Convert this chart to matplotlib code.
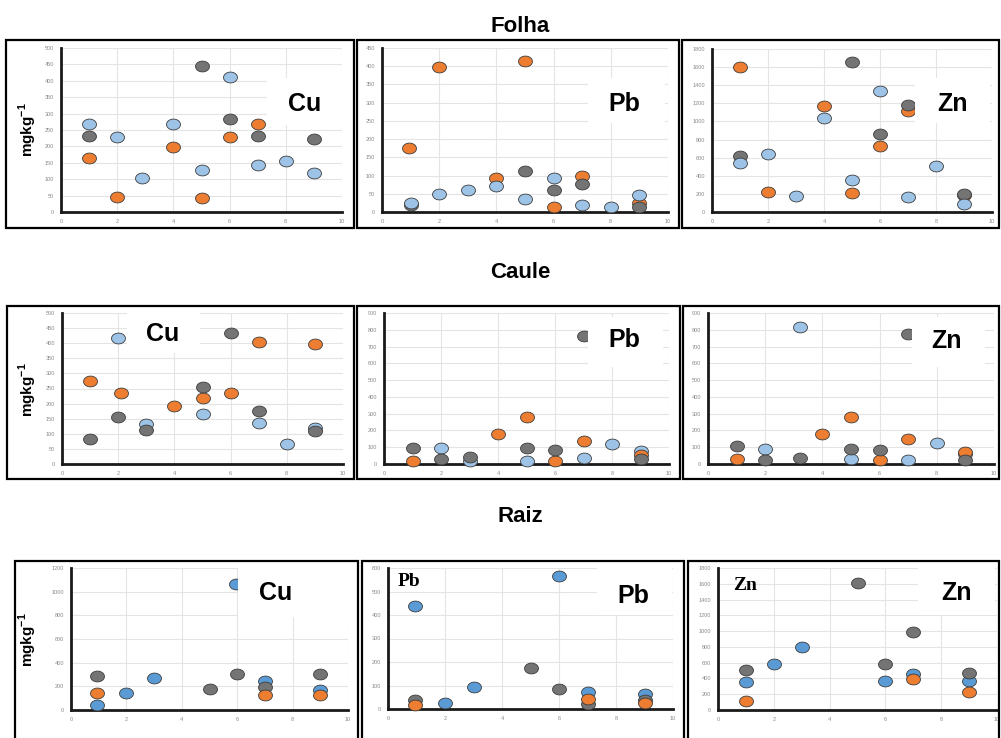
import matplotlib
matplotlib.use("Agg")
import matplotlib.pyplot as plt
from matplotlib.patches import Rectangle
from matplotlib.path import Path
import numpy as np

plt.rcParams['font.family'] = ['Liberation Sans', 'DejaVu Sans']
plt.rcParams['mathtext.fontset'] = 'custom'
plt.rcParams['mathtext.bf'] = 'Liberation Sans:bold'
plt.rcParams['mathtext.rm'] = 'Liberation Sans'

# ---------------- data ----------------
row_titles = ["Folha", "Caule", "Raiz"]
elements = ["Cu", "Pb", "Zn"]
ylabel = r"mgkg$^{\mathbf{-1}}$"

# Folha
folha_cu_orange_x = [1, 2, 4, 5, 6, 7]
folha_cu_orange_y = [166, 47, 198, 44, 230, 267]
folha_cu_gray_x = [1, 5, 6, 7, 9]
folha_cu_gray_y = [233, 445, 284, 231, 223]
folha_cu_blue_x = [1, 2, 2.9, 4, 5, 6, 7, 8, 9]
folha_cu_blue_y = [268, 230, 103, 268, 128, 413, 142, 157, 119]

folha_pb_orange_x = [0.95, 2, 4, 5, 6, 7, 9]
folha_pb_orange_y = [176, 399, 94, 414, 15, 98, 25]
folha_pb_gray_x = [1, 5, 6, 7, 9]
folha_pb_gray_y = [18, 112, 59, 78, 13]
folha_pb_blue_x = [1, 2, 3, 4, 5, 6, 7, 8, 9]
folha_pb_blue_y = [26, 50, 61, 71, 37, 94, 20, 15, 47]

folha_zn_orange_x = [1, 2, 4, 5, 6, 7, 9]
folha_zn_orange_y = [1600, 221, 1172, 214, 730, 1120, 186]
folha_zn_gray_x = [1, 5, 6, 7, 9]
folha_zn_gray_y = [620, 1658, 862, 1178, 200]
folha_zn_blue_x = [1, 2, 3, 4, 5, 6, 7, 8, 9]
folha_zn_blue_y = [543, 641, 178, 1043, 353, 1339, 167, 512, 90]

# Caule
caule_cu_orange_x = [1, 2.1, 4, 5, 6, 7, 9]
caule_cu_orange_y = [275, 235, 192, 220, 236, 405, 396]
caule_cu_gray_x = [1, 2, 3, 5, 6, 7, 9]
caule_cu_gray_y = [83, 156, 114, 255, 435, 174, 110]
caule_cu_blue_x = [2, 3, 5, 7, 8, 9]
caule_cu_blue_y = [417, 134, 166, 136, 67, 119]

caule_pb_orange_x = [1, 4, 5, 6, 7, 9]
caule_pb_orange_y = [20, 180, 283, 20, 137, 52]
caule_pb_gray_x = [1, 2, 3, 5, 6, 7, 9]
caule_pb_gray_y = [95, 32, 40, 95, 83, 765, 28]
caule_pb_blue_x = [2, 3, 5, 7, 8, 9]
caule_pb_blue_y = [93, 15, 20, 34, 121, 77]

caule_zn_orange_x = [1, 4, 5, 6, 7, 9]
caule_zn_orange_y = [32, 176, 281, 22, 149, 73]
caule_zn_gray_x = [1, 2, 3.2, 5, 6, 7, 9]
caule_zn_gray_y = [105, 22, 34, 91, 85, 775, 24]
caule_zn_blue_x = [2, 3.2, 5, 7, 8, 9]
caule_zn_blue_y = [87, 817, 30, 22, 123, 57]

# Raiz
raiz_cu_orange_x = [0.95, 7, 9]
raiz_cu_orange_y = [141, 124, 124]
raiz_cu_gray_x = [0.95, 5, 6, 7, 9]
raiz_cu_gray_y = [285, 181, 305, 195, 305]
raiz_cu_blue_x = [0.95, 2, 3, 5.95, 7, 9]
raiz_cu_blue_y = [45, 141, 271, 1068, 246, 167]

raiz_pb_orange_x = [0.95, 7, 9]
raiz_pb_orange_y = [16, 44, 24]
raiz_pb_gray_x = [0.95, 5, 6, 7, 9]
raiz_pb_gray_y = [37, 174, 84, 23, 40]
raiz_pb_blue_x = [0.95, 2, 3, 6, 7, 9]
raiz_pb_blue_y = [440, 24, 92, 566, 74, 62]

raiz_zn_orange_x = [1, 7, 9]
raiz_zn_orange_y = [119, 394, 229]
raiz_zn_gray_x = [1, 5, 6, 7, 9]
raiz_zn_gray_y = [504, 1614, 589, 987, 475]
raiz_zn_blue_x = [1, 2, 3, 6, 7, 9]
raiz_zn_blue_y = [352, 585, 797, 364, 458, 369]

y_ticks = {
    (0, 0): [0, 50, 100, 150, 200, 250, 300, 350, 400, 450, 500],
    (0, 1): [0, 50, 100, 150, 200, 250, 300, 350, 400, 450],
    (0, 2): [0, 200, 400, 600, 800, 1000, 1200, 1400, 1600, 1800],
    (1, 0): [0, 50, 100, 150, 200, 250, 300, 350, 400, 450, 500],
    (1, 1): [0, 100, 200, 300, 400, 500, 600, 700, 800, 900],
    (1, 2): [0, 100, 200, 300, 400, 500, 600, 700, 800, 900],
    (2, 0): [0, 200, 400, 600, 800, 1000, 1200],
    (2, 1): [0, 100, 200, 300, 400, 500, 600],
    (2, 2): [0, 200, 400, 600, 800, 1000, 1200, 1400, 1600, 1800],
}
x_ticks = [0, 2, 4, 6, 8, 10]

# ---------------- styling ----------------
W, H = 1001, 738
fig = plt.figure(figsize=(W / 100, H / 100), dpi=100)
fig.patch.set_facecolor("white")

ORANGE = "#ED7D31"
GRAY = "#747474"
LBLUE = "#9DC3E6"
BLUE = "#5B9BD5"

t = np.linspace(0, 2 * np.pi, 60)
ell = Path(np.column_stack([np.cos(t), 0.78 * np.sin(t)]), closed=True)

# axes pixel boxes: x0, x1, ytop, ybot
ax_px = {
    (0, 0): (61, 342, 48, 212), (0, 1): (382, 668, 48, 212), (0, 2): (712, 992, 49, 212),
    (1, 0): (62, 343, 313, 464), (1, 1): (384, 669, 313, 464), (1, 2): (708, 994, 313, 464),
    (2, 0): (71, 348, 568, 710), (2, 1): (388, 673, 568, 709), (2, 2): (718, 997, 568, 710),
}
frames = {
    0: [(6, 354), (357, 679), (682, 999)],
    1: [(7, 354), (357, 680), (683, 999)],
    2: [(15, 358), (362, 684), (688, 999)],
}
frame_y = {0: (40, 228), 1: (306, 479), 2: (561, 745)}

series = {
    (0, 0): [(folha_cu_orange_x, folha_cu_orange_y, ORANGE), (folha_cu_gray_x, folha_cu_gray_y, GRAY), (folha_cu_blue_x, folha_cu_blue_y, LBLUE)],
    (0, 1): [(folha_pb_orange_x, folha_pb_orange_y, ORANGE), (folha_pb_gray_x, folha_pb_gray_y, GRAY), (folha_pb_blue_x, folha_pb_blue_y, LBLUE)],
    (0, 2): [(folha_zn_orange_x, folha_zn_orange_y, ORANGE), (folha_zn_gray_x, folha_zn_gray_y, GRAY), (folha_zn_blue_x, folha_zn_blue_y, LBLUE)],
    (1, 0): [(caule_cu_blue_x, caule_cu_blue_y, LBLUE), (caule_cu_orange_x, caule_cu_orange_y, ORANGE), (caule_cu_gray_x, caule_cu_gray_y, GRAY)],
    (1, 1): [(caule_pb_blue_x, caule_pb_blue_y, LBLUE), (caule_pb_orange_x, caule_pb_orange_y, ORANGE), (caule_pb_gray_x, caule_pb_gray_y, GRAY)],
    (1, 2): [(caule_zn_blue_x, caule_zn_blue_y, LBLUE), (caule_zn_orange_x, caule_zn_orange_y, ORANGE), (caule_zn_gray_x, caule_zn_gray_y, GRAY)],
    (2, 0): [(raiz_cu_blue_x, raiz_cu_blue_y, BLUE), (raiz_cu_gray_x, raiz_cu_gray_y, GRAY), (raiz_cu_orange_x, raiz_cu_orange_y, ORANGE)],
    (2, 1): [(raiz_pb_blue_x, raiz_pb_blue_y, BLUE), (raiz_pb_gray_x, raiz_pb_gray_y, GRAY), (raiz_pb_orange_x, raiz_pb_orange_y, ORANGE)],
    (2, 2): [(raiz_zn_blue_x, raiz_zn_blue_y, BLUE), (raiz_zn_gray_x, raiz_zn_gray_y, GRAY), (raiz_zn_orange_x, raiz_zn_orange_y, ORANGE)],
}

# label: (text center x, y, white box x0, x1, y0, y1)
labels = {
    (0, 0): (305, 104, 267, 343, 78, 125),
    (0, 1): (624, 104, 588, 665, 78, 123),
    (0, 2): (952, 104, 915, 990, 78, 123),
    (1, 0): (163, 334, 127, 200, 313, 353),
    (1, 1): (624, 340, 588, 663, 317, 367),
    (1, 2): (947, 341, 912, 985, 317, 367),
    (2, 0): (276, 593, 238, 348, 568, 617),
    (2, 1): (633, 596, 597, 672, 568, 615),
    (2, 2): (956, 593, 918, 995, 568, 615),
}


def fx(px):
    return px / W


def fy(py):
    return 1 - py / H


# frames
for r in range(3):
    y0, y1 = frame_y[r]
    for (x0, x1) in frames[r]:
        fig.add_artist(Rectangle((fx(x0), fy(y1)), fx(x1) - fx(x0), fy(y0) - fy(y1),
                                 fill=False, edgecolor="black", linewidth=1.6,
                                 transform=fig.transFigure, zorder=0.5))

for (r, c), (x0, x1, yt, yb) in ax_px.items():
    ax = fig.add_axes([fx(x0), fy(yb), fx(x1) - fx(x0), fy(yt) - fy(yb)])
    yt_list = y_ticks[(r, c)]
    ax.set_xlim(0, 10)
    ax.set_ylim(0, yt_list[-1])
    ax.set_xticks(x_ticks)
    ax.set_yticks(yt_list)
    ax.tick_params(length=0, labelsize=4, labelcolor="#8a8a8a", pad=5)
    ax.grid(True, color="#e4e4e4", linewidth=0.8)
    ax.set_axisbelow(True)
    for s in ["top", "right"]:
        ax.spines[s].set_visible(False)
    for s in ["left", "bottom"]:
        ax.spines[s].set_linewidth(2.0)
        ax.spines[s].set_color("#1a1a1a")
    ax.patch.set_alpha(0)
    for k, (xs, ys, col) in enumerate(series[(r, c)]):
        ax.scatter(xs, ys, s=100, marker=ell, facecolor=col, edgecolor="#3c3c3c",
                   linewidth=0.6, zorder=3 + k, clip_on=False)

    tx, ty, bx0, bx1, by0, by1 = labels[(r, c)]
    fig.add_artist(Rectangle((fx(bx0), fy(by1)), fx(bx1) - fx(bx0), fy(by0) - fy(by1),
                             facecolor="white", edgecolor="none",
                             transform=fig.transFigure, zorder=2))
    fig.text(fx(tx), fy(ty), elements[c], ha="center", va="center",
             fontsize=18, fontweight="bold", zorder=3)

# y labels
for r, yc in zip(range(3), [130, 390, 640]):
    fig.text(fx(28), fy(yc), ylabel, rotation=90, ha="center", va="center",
             fontsize=11, fontweight="bold")

# row titles
for title, yc in zip(row_titles, [26, 272, 517]):
    fig.text(fx(520), fy(yc), title, ha="center", va="center",
             fontsize=16, fontweight="bold")

# serif labels in Raiz panels
fig.text(fx(409), fy(582), "Pb", ha="center", va="center", fontsize=14,
         fontweight="bold", family=["Liberation Serif", "DejaVu Serif"], zorder=3)
fig.text(fx(745), fy(586), "Zn", ha="center", va="center", fontsize=14,
         fontweight="bold", family=["Liberation Serif", "DejaVu Serif"], zorder=3)

fig.savefig("out.png", dpi=100, facecolor="white")
